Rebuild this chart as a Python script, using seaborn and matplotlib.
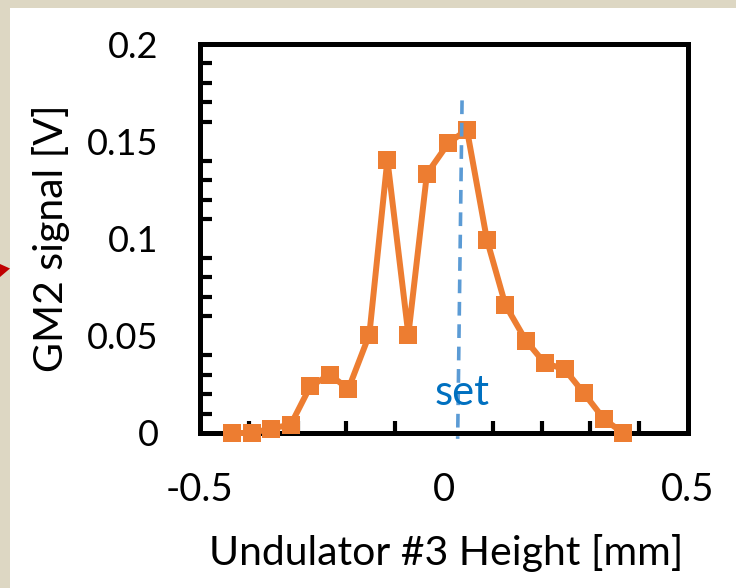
import matplotlib
matplotlib.use("Agg")
import matplotlib.pyplot as plt
from matplotlib.ticker import MultipleLocator
from matplotlib.patches import Rectangle, Polygon
import seaborn as sns

# ------------------------------------------
# Data
# ------------------------------------------
height_mm = [-0.434, -0.394, -0.354, -0.314, -0.274, -0.234, -0.196, -0.153,
             -0.116, -0.073, -0.035, 0.009, 0.047, 0.088, 0.126, 0.168,
             0.206, 0.247, 0.286, 0.328, 0.367]
gm2_signal = [0.0, 0.0, 0.0023, 0.0043, 0.024, 0.030, 0.0226, 0.0506,
              0.1405, 0.0506, 0.1333, 0.149, 0.156, 0.0993, 0.0657, 0.0475,
              0.036, 0.0328, 0.0207, 0.0071, 0.0]

# "set" marker line (slightly tilted in the original)
set_x = [0.037, 0.028]
set_y = [0.171, -0.003]
set_label_pos = (0.038, 0.0144)

x_ticks = [-0.5, 0, 0.5]
x_ticklabels = ["-0.5", "0", "0.5"]
y_ticks = [0, 0.05, 0.1, 0.15, 0.2]
y_ticklabels = ["0", "0.05", "0.1", "0.15", "0.2"]

orange = "#ED7D31"
blue_line = "#5B9BD5"
blue_text = "#0070C0"

# ------------------------------------------
# Style
# ------------------------------------------
sns.set_style("white")
plt.rcParams["font.family"] = ["Lato", "DejaVu Sans"]

W, H = 736, 588
fig = plt.figure(figsize=(W / 100, H / 100), dpi=100, facecolor="#DDD7C3")

# white slide panel + small red arrow at left edge
fig.patches.append(Rectangle((10 / W, 0), 1, 1 - 8 / H, transform=fig.transFigure,
                             facecolor="white", edgecolor="none", zorder=-10))
fig.patches.append(Polygon([(0, 1 - 264 / H), (10 / W, 1 - 268.5 / H), (0, 1 - 277 / H)],
                           closed=True, transform=fig.transFigure,
                           facecolor="#C00000", edgecolor="none", zorder=-5))

ax = fig.add_axes([200 / W, 1 - 433 / H, 488 / W, 389 / H])
ax.set_facecolor("white")

sns.lineplot(x=height_mm, y=gm2_signal, ax=ax, color=orange, linewidth=4.3,
             marker="s", markersize=12.5, markeredgewidth=0, sort=False,
             clip_on=False, zorder=3)

ax.plot(set_x, set_y, linestyle=(0, (3.8, 2.4)), color=blue_line, linewidth=2.6,
        clip_on=False, zorder=4)
ax.text(set_label_pos[0], set_label_pos[1], "set", color=blue_text, fontsize=30,
        ha="center", va="baseline", zorder=5)

ax.set_xlim(-0.5, 0.5)
ax.set_ylim(0, 0.2)
ax.set_xticks(x_ticks)
ax.set_xticklabels(x_ticklabels)
ax.set_yticks(y_ticks)
ax.set_yticklabels(y_ticklabels)
ax.xaxis.set_minor_locator(MultipleLocator(0.1))
ax.yaxis.set_minor_locator(MultipleLocator(0.01))

for side in ["left", "right", "top", "bottom"]:
    ax.spines[side].set_visible(True)
    ax.spines[side].set_color("black")
    ax.spines[side].set_linewidth(3.6)

ax.tick_params(which="major", direction="inout", length=19.5, width=3,
               color="black", labelcolor="black")
ax.tick_params(axis="y", which="major", pad=20, labelsize=26)
ax.tick_params(axis="x", which="major", pad=18.5, labelsize=27.5)
ax.tick_params(which="minor", direction="in", length=8.5, width=3, color="black")
ax.tick_params(which="both", top=False, right=False)
ax.xaxis.set_tick_params(which="minor", bottom=True)
ax.yaxis.set_tick_params(which="minor", left=True)

ax.set_xlabel("Undulator #3 Height [mm]", fontsize=29.5, color="black")
ax.set_ylabel("GM2 signal [V]", fontsize=29.5, color="black")
ax.xaxis.set_label_coords(0.505, -0.2596)
ax.yaxis.set_label_coords(-0.266, 0.5)

fig.savefig("out.png", dpi=100, facecolor=fig.get_facecolor())
